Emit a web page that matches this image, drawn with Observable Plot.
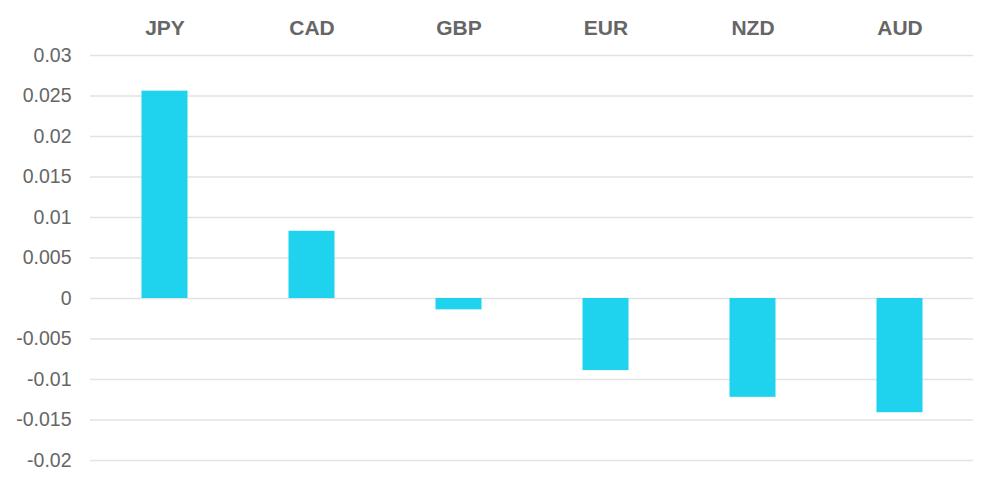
<!DOCTYPE html>
<html>
<head>
<meta charset="utf-8">
<script src="https://cdn.jsdelivr.net/npm/d3@7"></script>
<script src="https://cdn.jsdelivr.net/npm/@observablehq/plot@0.6"></script>
<style>
  html, body { margin: 0; padding: 0; background: #fff; }
  #chart svg { display: block; }
</style>
</head>
<body>
<div id="chart"></div>
<script>
const currencies = ["JPY", "CAD", "GBP", "EUR", "NZD", "AUD"];
const values = [0.0256, 0.0083, -0.0014, -0.0089, -0.0122, -0.0141];
const yTicks = [-0.02, -0.015, -0.01, -0.005, 0, 0.005, 0.01, 0.015, 0.02, 0.025, 0.03];

const data = currencies.map((c, i) => ({currency: c, value: values[i]}));

const chart = Plot.plot({
  width: 1000,
  height: 487,
  marginLeft: 90,
  marginRight: 27,
  marginTop: 55,
  marginBottom: 27,
  style: {fontFamily: "Helvetica, Arial, 'Liberation Sans', sans-serif", background: "#fff"},
  x: {domain: currencies, padding: 0, label: null},
  y: {domain: [-0.02, 0.03], label: null},
  marks: [
    Plot.gridY(yTicks, {stroke: "#e2e2e2", strokeOpacity: 1, strokeWidth: 1.5}),
    Plot.barY(data, {x: "currency", y: "value", fill: "#1fd3ee", insetLeft: 50.5, insetRight: 50.5}),
    Plot.axisY(yTicks, {
      tickSize: 0, tickPadding: 19, fontSize: 19.5, fill: "#666",
      tickFormat: d => String(+d.toFixed(3)), label: null
    }),
    Plot.axisX({
      anchor: "top", tickSize: 0, tickPadding: 21, fontSize: 21, fontWeight: "bold",
      fill: "#666", label: null
    })
  ]
});
document.getElementById("chart").appendChild(chart);
</script>
</body>
</html>
